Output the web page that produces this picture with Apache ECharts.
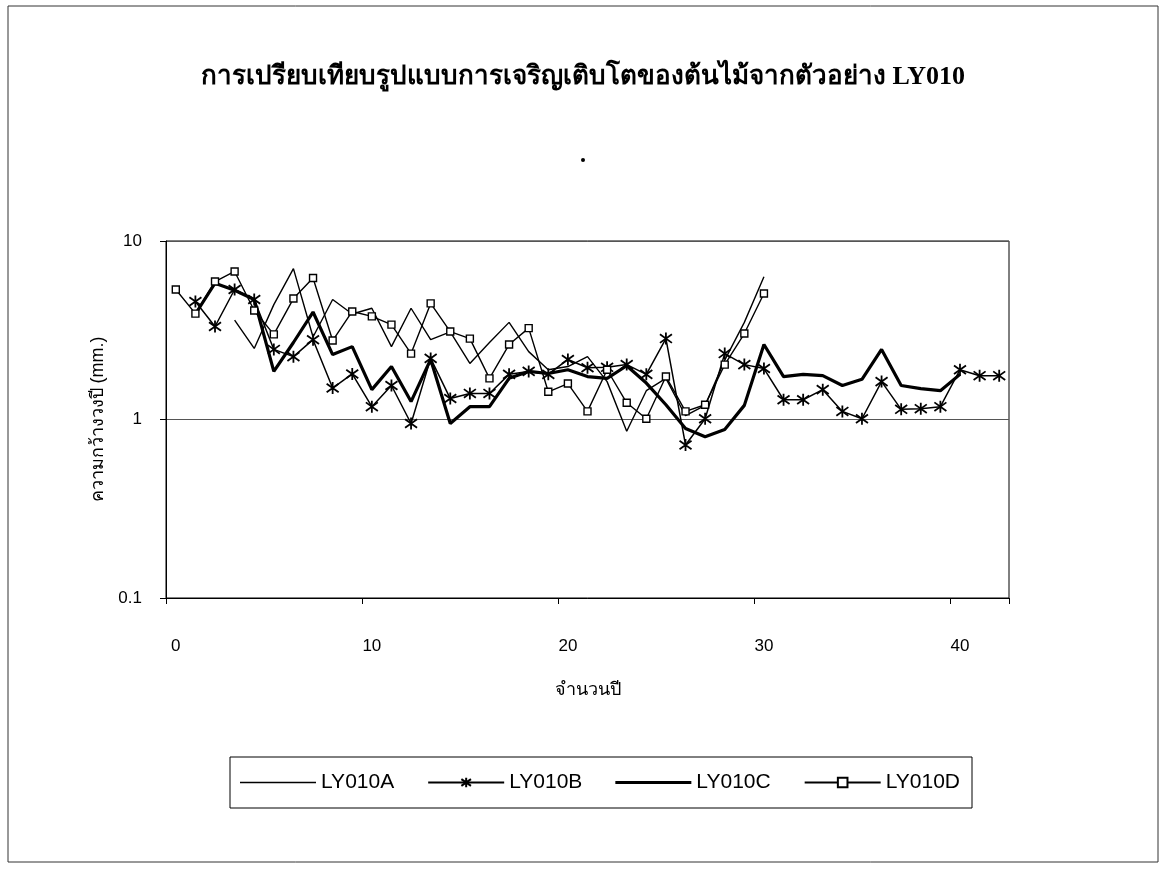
<!DOCTYPE html>
<html>
<head>
<meta charset="utf-8">
<script src="https://cdn.jsdelivr.net/npm/echarts@6/dist/echarts.min.js"></script>
<style>
  html, body { margin: 0; padding: 0; background: #fff; }
  #chart { width: 1166px; height: 871px; }
</style>
</head>
<body>
<div id="chart"></div>
<script>
// Ring-width series (mm) by year index, samples LY010A–D
const years = Array.from({ length: 43 }, (_, i) => String(i));

const ly010A = [null, null, null, 3.6, 2.5, 4.4, 7.0, 2.9, 4.7, 3.9,
  4.2, 2.56, 4.2, 2.8, 3.1, 2.06, 2.7, 3.5, 2.4, 1.9,
  1.98, 2.25, 1.63, 0.86, 1.45, 1.7, 1.05, 1.2, 2.15, 3.5,
  6.3, null, null, null, null, null, null, null, null, null,
  null, null, null];

const ly010B = [null, 4.58, 3.32, 5.35, 4.7, 2.47, 2.25, 2.8, 1.5, 1.8,
  1.18, 1.55, 0.95, 2.2, 1.31, 1.4, 1.4, 1.79, 1.86, 1.79,
  2.17, 1.95, 1.96, 2.03, 1.79, 2.84, 0.72, 1.01, 2.34, 2.03,
  1.93, 1.29, 1.29, 1.47, 1.11, 1.01, 1.63, 1.14, 1.15, 1.18,
  1.9, 1.76, 1.76];

const ly010C = [null, 3.9, 5.8, 5.3, 4.7, 1.86, 2.7, 4.0, 2.31, 2.56,
  1.47, 1.98, 1.26, 2.17, 0.95, 1.18, 1.18, 1.7, 1.86, 1.81,
  1.9, 1.74, 1.7, 2.0, 1.6, 1.21, 0.89, 0.8, 0.88, 1.2,
  2.63, 1.74, 1.79, 1.76, 1.55, 1.68, 2.47, 1.55, 1.49, 1.45,
  1.79, null, null];

const ly010D = [5.35, 3.92, 5.93, 6.75, 4.08, 3.0, 4.76, 6.2, 2.77, 4.03,
  3.78, 3.4, 2.34, 4.47, 3.11, 2.84, 1.7, 2.63, 3.25, 1.43,
  1.59, 1.11, 1.9, 1.24, 1.01, 1.74, 1.11, 1.21, 2.03, 3.03,
  5.08, null, null, null, null, null, null, null, null, null,
  null, null, null];

const seriesNames = ['LY010A', 'LY010B', 'LY010C', 'LY010D'];
const titleText = 'การเปรียบเทียบรูปแบบการเจริญเติบโตของต้นไม้จากตัวอย่าง LY010';
const xName = 'จำนวนปี';
const yName = 'ความกว้างวงปี (mm.)';

const sansFont = "'Liberation Sans', Arial, 'DejaVu Sans', sans-serif";
const serifFont = "'Liberation Serif', 'DejaVu Serif', serif";

// asterisk marker: X plus a vertical bar
const starPath = 'path://M-5,-5L5,5M-5,5L5,-5M0,-7L0,7';
// legend icons for the marker-less series: a bar centred in a 76x12 box
const thinLineIcon = 'path://M0,0M0,12M0,5.3H76V6.7H0Z';
const thickLineIcon = 'path://M0,0M0,12M0,4.4H76V7.6H0Z';

const chart = echarts.init(document.getElementById('chart'), null, { renderer: 'canvas' });

chart.setOption({
  animation: false,
  backgroundColor: '#fff',
  title: {
    text: titleText,
    left: 'center',
    top: 59,
    textStyle: { fontFamily: serifFont, fontWeight: 'bold', fontSize: 26, color: '#000' }
  },
  graphic: [
    { type: 'rect', shape: { x: 8, y: 6, width: 1150, height: 856 },
      style: { fill: 'none', stroke: '#333', lineWidth: 1 }, silent: true },
    { type: 'circle', shape: { cx: 583, cy: 160, r: 2 }, style: { fill: '#000' }, silent: true }
  ],
  legend: {
    data: [
      { name: seriesNames[0], icon: thinLineIcon },
      seriesNames[1],
      { name: seriesNames[2], icon: thickLineIcon },
      seriesNames[3]
    ],
    left: 230,
    top: 757,
    orient: 'horizontal',
    itemWidth: 76,
    itemHeight: 12,
    itemGap: 33,
    padding: [15, 12, 15, 10],
    borderColor: '#000',
    borderWidth: 1,
    textStyle: { fontFamily: sansFont, fontSize: 21, color: '#000' }
  },
  grid: {
    left: 166, right: 157, top: 241, bottom: 273,
    show: true, borderColor: '#000', borderWidth: 1, containLabel: false
  },
  xAxis: {
    type: 'category',
    data: years,
    boundaryGap: true,
    name: xName,
    nameLocation: 'middle',
    nameGap: 83,
    nameTextStyle: { fontFamily: sansFont, fontSize: 18, color: '#000' },
    axisLine: { lineStyle: { color: '#000', width: 1 } },
    axisTick: { show: true, interval: 9, length: 6, lineStyle: { color: '#000' } },
    axisLabel: { interval: 9, margin: 40, fontFamily: sansFont, fontSize: 17, color: '#000' },
    splitLine: { show: false }
  },
  yAxis: {
    type: 'log',
    logBase: 10,
    min: 0.1,
    max: 10,
    name: yName,
    nameLocation: 'middle',
    nameGap: 58,
    nameRotate: 90,
    nameTextStyle: { fontFamily: sansFont, fontSize: 18, color: '#000' },
    axisLine: { show: true, lineStyle: { color: '#000', width: 1 } },
    axisTick: { show: true, length: 6, lineStyle: { color: '#000' } },
    axisLabel: { margin: 24, fontFamily: sansFont, fontSize: 17, color: '#000' },
    splitLine: { show: true, lineStyle: { color: '#555', width: 1 } },
    minorTick: { show: false }
  },
  series: [
    {
      name: seriesNames[0], type: 'line', data: ly010A,
      symbol: 'none', lineStyle: { color: '#000', width: 1.4 },
      itemStyle: { color: '#000' }, z: 2
    },
    {
      name: seriesNames[1], type: 'line', data: ly010B,
      symbol: starPath, symbolSize: 12, showSymbol: true,
      lineStyle: { color: '#000', width: 1.5 },
      itemStyle: { color: 'none', borderColor: '#000', borderWidth: 1.8 }, z: 3
    },
    {
      name: seriesNames[2], type: 'line', data: ly010C,
      symbol: 'none', lineStyle: { color: '#000', width: 3.2 },
      itemStyle: { color: '#000' }, z: 4
    },
    {
      name: seriesNames[3], type: 'line', data: ly010D,
      symbol: 'rect', symbolSize: 7, showSymbol: true,
      lineStyle: { color: '#000', width: 1.4 },
      itemStyle: { color: '#fff', borderColor: '#000', borderWidth: 1.4 }, z: 5
    }
  ]
});
</script>
</body>
</html>
